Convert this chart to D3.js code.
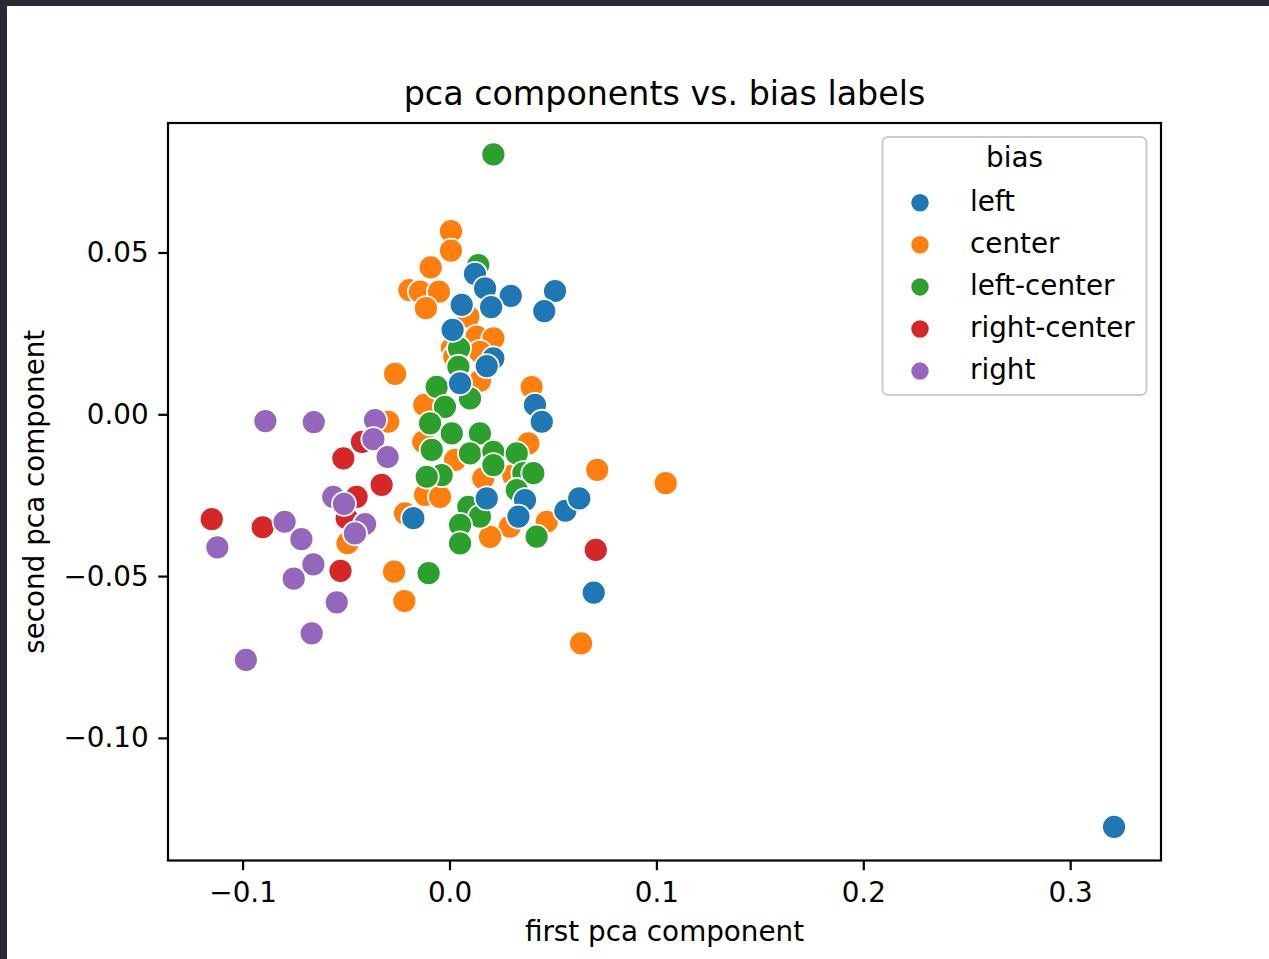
<!DOCTYPE html>
<html>
<head>
<meta charset="utf-8">
<script src="https://cdn.jsdelivr.net/npm/d3@7"></script>
<style>
  body { margin: 0; background: #ffffff; }
  svg { display: block; }
  text { font-family: "DejaVu Sans", sans-serif; fill: #000; }
</style>
</head>
<body>
<svg id="chart" width="1269" height="959"></svg>
<script>
// Data (first pca component, second pca component) per bias label
var categories = ["left", "center", "left-center", "right-center", "right"];
var colors = ["#1f77b4", "#ff7f0e", "#2ca02c", "#d62728", "#9467bd"];

var left = [
    [0.3212, -0.1275], [0.0123, 0.0434], [0.0172, 0.0389], [0.0296, 0.0366], [0.0510, 0.0381],
    [0.0458, 0.0319], [0.0059, 0.0338], [0.0201, 0.0331], [0.0015, 0.0261], [0.0212, 0.0173],
    [0.0180, 0.0149], [0.0051, 0.0096], [0.0413, 0.0029], [0.0446, -0.0023], [0.0180, -0.0260],
    [0.0365, -0.0265], [0.0333, -0.0316], [-0.0175, -0.0321], [0.0560, -0.0298], [0.0627, -0.0260],
    [0.0697, -0.0551]
];
var center = [
    [0.0007, 0.0566], [0.0007, 0.0506], [-0.0091, 0.0454], [-0.0194, 0.0384], [-0.0143, 0.0379],
    [-0.0051, 0.0379], [-0.0114, 0.0328], [0.0091, 0.0302], [0.0131, 0.0240], [0.0212, 0.0235],
    [0.0011, 0.0204], [0.0023, 0.0178], [0.0147, 0.0193], [-0.0263, 0.0125], [0.0147, 0.0103],
    [0.0397, 0.0084], [-0.0122, 0.0029], [-0.0296, -0.0023], [-0.0127, -0.0085], [0.0027, -0.0141],
    [0.0381, -0.0090], [0.0163, -0.0198], [0.0308, -0.0188], [-0.0118, -0.0249], [-0.0046, -0.0255],
    [-0.0215, -0.0306], [0.0292, -0.0347], [0.0196, -0.0379], [0.0470, -0.0332], [0.0714, -0.0172],
    [0.1045, -0.0213], [0.0636, -0.0708], [-0.0268, -0.0486], [-0.0218, -0.0577], [-0.0493, -0.0398]
];
var leftCenter = [
    [0.0212, 0.0803], [0.0139, 0.0461], [0.0046, 0.0204], [0.0043, 0.0147], [-0.0062, 0.0085],
    [0.0099, 0.0049], [-0.0022, 0.0023], [-0.0094, -0.0028], [0.0011, -0.0059], [0.0147, -0.0059],
    [-0.0086, -0.0110], [0.0099, -0.0121], [0.0212, -0.0116], [0.0325, -0.0121], [0.0212, -0.0157],
    [-0.0038, -0.0188], [-0.0110, -0.0193], [0.0357, -0.0182], [0.0405, -0.0182], [0.0325, -0.0234],
    [0.0091, -0.0286], [0.0147, -0.0316], [0.0051, -0.0342], [0.0051, -0.0399], [0.0421, -0.0378],
    [-0.0101, -0.0491]
];
var rightCenter = [
    [-0.1149, -0.0324], [-0.0903, -0.0349], [-0.0513, -0.0136], [-0.0423, -0.0085], [-0.0328, -0.0218],
    [-0.0449, -0.0255], [-0.0527, -0.0484], [0.0707, -0.0419], [-0.0497, -0.0321]
];
var right = [
    [-0.0890, -0.0021], [-0.0656, -0.0024], [-0.0360, -0.0018], [-0.0368, -0.0077], [-0.0299, -0.0132],
    [-0.0562, -0.0255], [-0.0510, -0.0277], [-0.0797, -0.0332], [-0.0716, -0.0386], [-0.1122, -0.0411],
    [-0.0658, -0.0464], [-0.0753, -0.0508], [-0.0545, -0.0581], [-0.0666, -0.0677], [-0.0984, -0.0759],
    [-0.0408, -0.0339], [-0.0457, -0.0368]
];

var seriesValues = [left, center, leftCenter, rightCenter, right];

var xTicks = [-0.1, 0.0, 0.1, 0.2, 0.3];
var yTicks = [-0.10, -0.05, 0.00, 0.05];

// Layout
var plot = { left: 168, top: 123, right: 1161, bottom: 860.5 };
var fontSize = 27.8;

var svg = d3.select("#chart");

// dark frame of the screenshot
svg.append("rect").attr("x", 0).attr("y", 0).attr("width", 1269).attr("height", 6).attr("fill", "#282a36");
svg.append("rect").attr("x", 0).attr("y", 0).attr("width", 7).attr("height", 959).attr("fill", "#282a36");

var x = d3.scaleLinear()
    .domain([-0.13606, 0.34389])
    .range([plot.left, plot.right]);

var y = d3.scaleLinear()
    .domain([0.09002, -0.13789])
    .range([plot.top, plot.bottom]);

// Points (drawn so blue / purple sit on top like the original)
var drawOrder = [1, 2, 0, 3, 4];
var points = [];
drawOrder.forEach(function(k) {
    seriesValues[k].forEach(function(d) {
        points.push({ x: d[0], y: d[1], k: k });
    });
});

svg.append("g")
    .attr("id", "points")
    .selectAll("circle")
    .data(points)
    .enter()
    .append("circle")
    .attr("cx", function(d) { return x(d.x); })
    .attr("cy", function(d) { return y(d.y); })
    .attr("r", 12)
    .attr("fill", function(d) { return colors[d.k]; })
    .attr("stroke", "#ffffff")
    .attr("stroke-width", 1.8);

// Axes
var xAxis = svg.append("g")
    .attr("transform", "translate(0," + plot.bottom + ")")
    .call(d3.axisBottom(x)
        .tickValues(xTicks)
        .tickFormat(d3.format(".1f"))
        .tickSize(9.7)
        .tickSizeOuter(0)
        .tickPadding(12));

var yAxis = svg.append("g")
    .attr("transform", "translate(" + plot.left + ",0)")
    .call(d3.axisLeft(y)
        .tickValues(yTicks)
        .tickFormat(d3.format(".2f"))
        .tickSize(9.7)
        .tickSizeOuter(0)
        .tickPadding(9.7));

[xAxis, yAxis].forEach(function(a) {
    a.select(".domain").remove();
    a.selectAll(".tick line").attr("stroke", "#000").attr("stroke-width", 2.2);
    a.selectAll(".tick text")
        .attr("fill", "#000")
        .style("font-family", "DejaVu Sans")
        .style("font-size", fontSize + "px");
});

// Spines
svg.append("rect")
    .attr("x", plot.left)
    .attr("y", plot.top)
    .attr("width", plot.right - plot.left)
    .attr("height", plot.bottom - plot.top)
    .attr("fill", "none")
    .attr("stroke", "#000")
    .attr("stroke-width", 2.2);

// Title and axis labels
svg.append("text")
    .attr("x", (plot.left + plot.right) / 2)
    .attr("y", 105)
    .attr("text-anchor", "middle")
    .style("font-size", "33.3px")
    .text("pca components vs. bias labels");

svg.append("text")
    .attr("x", (plot.left + plot.right) / 2)
    .attr("y", 941)
    .attr("text-anchor", "middle")
    .style("font-size", fontSize + "px")
    .text("first pca component");

svg.append("text")
    .attr("transform", "translate(44," + (plot.top + plot.bottom) / 2 + ")rotate(-90)")
    .attr("text-anchor", "middle")
    .style("font-size", fontSize + "px")
    .text("second pca component");

// Legend
var legend = svg.append("g").attr("id", "legend");

legend.append("rect")
    .attr("x", 882.5)
    .attr("y", 137)
    .attr("width", 264)
    .attr("height", 258)
    .attr("rx", 5.5)
    .attr("fill", "#ffffff")
    .attr("fill-opacity", 0.8)
    .attr("stroke", "#cccccc")
    .attr("stroke-width", 2);

legend.append("text")
    .attr("x", 1014.5)
    .attr("y", 167)
    .attr("text-anchor", "middle")
    .style("font-size", fontSize + "px")
    .text("bias");

var legenditem = legend.selectAll(".legenditem")
    .data(d3.range(categories.length))
    .enter()
    .append("g")
    .attr("class", "legenditem")
    .attr("transform", function(d, i) { return "translate(920," + (202.7 + i * 42.1) + ")"; });

legenditem.append("circle")
    .attr("r", 9.5)
    .attr("fill", function(d, i) { return colors[i]; })
    .attr("stroke", "#ffffff")
    .attr("stroke-width", 1.5);

legenditem.append("text")
    .attr("x", 50)
    .attr("y", 8)
    .style("font-size", fontSize + "px")
    .text(function(d, i) { return categories[i]; });
</script>
</body>
</html>
